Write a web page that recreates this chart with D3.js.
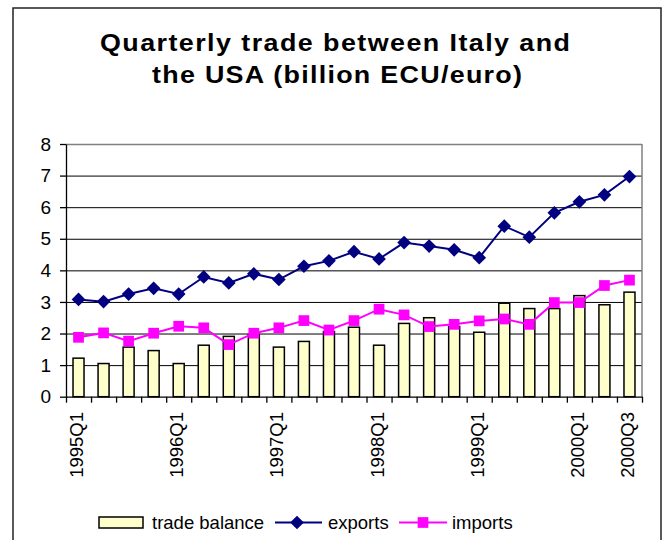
<!DOCTYPE html>
<html>
<head>
<meta charset="utf-8">
<title>Quarterly trade between Italy and the USA</title>
<script src="https://d3js.org/d3.v7.min.js"></script>
<style>
  body { margin: 0; background: #fff; }
  text { font-family: "Liberation Sans", Arial, sans-serif; fill: #000; }
</style>
</head>
<body>
<div id="chart"></div>
<script>
// quarters 1995Q1 .. 2000Q3
const quarters = ["1995Q1","1995Q2","1995Q3","1995Q4","1996Q1","1996Q2","1996Q3","1996Q4",
  "1997Q1","1997Q2","1997Q3","1997Q4","1998Q1","1998Q2","1998Q3","1998Q4",
  "1999Q1","1999Q2","1999Q3","1999Q4","2000Q1","2000Q2","2000Q3"];
const shownLabels = ["1995Q1","1996Q1","1997Q1","1998Q1","1999Q1","2000Q1","2000Q3"];
const tradeBalance = [1.22,1.05,1.57,1.46,1.05,1.63,1.91,1.97,1.57,1.75,2.06,2.20,
  1.63,2.32,2.50,2.22,2.04,2.96,2.79,2.79,3.20,2.91,3.31];
const exportsVals = [3.08,3.01,3.25,3.43,3.25,3.79,3.60,3.89,3.71,4.13,4.30,4.59,
  4.36,4.88,4.77,4.65,4.40,5.40,5.05,5.82,6.17,6.39,6.97];
const importsVals = [1.88,2.02,1.76,2.01,2.23,2.18,1.65,2.01,2.18,2.41,2.11,2.41,
  2.77,2.59,2.22,2.29,2.40,2.46,2.29,2.98,2.98,3.52,3.69];
const yTicks = [0,1,2,3,4,5,6,7,8];

const W = 672, H = 540;
const pLeft = 66, pRight = 642, pTop = 144, pBottom = 396.7;

const svg = d3.select("#chart").append("svg")
  .attr("width", W).attr("height", H);

// outer frame (bottom edge runs off the picture)
svg.append("rect")
  .attr("x", 13).attr("y", 8)
  .attr("width", 648).attr("height", 560)
  .attr("fill", "none").attr("stroke", "#222").attr("stroke-width", 1.5);

// title, slightly widened glyphs like the original rendering
const sx = 1.12;
const title = svg.append("g").attr("font-weight", "bold").attr("font-size", 24);
title.append("text")
  .attr("transform", "translate(100,51) scale(" + sx + ",1)")
  .attr("textLength", 470 / sx).attr("lengthAdjust", "spacing")
  .text("Quarterly trade between Italy and");
title.append("text")
  .attr("transform", "translate(152,82.5) scale(" + sx + ",1)")
  .attr("textLength", 370 / sx).attr("lengthAdjust", "spacing")
  .text("the USA (billion ECU/euro)");

const x = d3.scaleBand().domain(quarters).range([pLeft, pRight]);
const xEdges = d3.scaleLinear().domain([0, quarters.length]).range([pLeft, pRight]);
const y = d3.scaleLinear().domain([0, 8]).range([pBottom, pTop]);

// gridlines
svg.append("g")
  .attr("transform", "translate(" + pLeft + ",0)")
  .call(d3.axisLeft(y).tickValues(yTicks.slice(1)).tickSize(-(pRight - pLeft)).tickFormat(""))
  .call(g => g.select(".domain").remove())
  .call(g => g.selectAll(".tick line")
    .attr("stroke", d => d === 8 ? "#808080" : "#000")
    .attr("stroke-width", d => d === 8 ? 1.5 : 1));

// right border of plot
svg.append("line")
  .attr("x1", pRight).attr("x2", pRight).attr("y1", pTop).attr("y2", pBottom)
  .attr("stroke", "#808080").attr("stroke-width", 1.5);

// bars
const barW = 11;
svg.selectAll("rect.bar")
  .data(tradeBalance)
  .enter().append("rect")
  .attr("class", "bar")
  .attr("x", (d, i) => x(quarters[i]) + x.bandwidth() / 2 - barW / 2)
  .attr("y", d => y(d))
  .attr("width", barW)
  .attr("height", d => pBottom - y(d))
  .attr("fill", "#FFFFCC")
  .attr("stroke", "#000")
  .attr("stroke-width", 1.5);

// y axis
svg.append("g")
  .attr("transform", "translate(" + pLeft + ",0)")
  .call(d3.axisLeft(y).tickValues(yTicks).tickSize(6).tickPadding(9).tickSizeOuter(0))
  .call(g => g.selectAll("path, line").attr("stroke", "#000").attr("stroke-width", 1.3))
  .call(g => g.selectAll("text").attr("font-size", 19).attr("font-family", "Liberation Sans, Arial, sans-serif"));

// x axis with ticks between categories
svg.append("g")
  .attr("transform", "translate(0," + pBottom + ")")
  .call(d3.axisBottom(xEdges).ticks(quarters.length).tickSize(6).tickSizeOuter(0).tickFormat(""))
  .call(g => g.selectAll("path, line").attr("stroke", "#000").attr("stroke-width", 1.3));

svg.append("g").selectAll("text")
  .data(shownLabels)
  .enter().append("text")
  .attr("transform", d => "translate(" + (x(d) + x.bandwidth() / 2 + 4.5) + ",412) rotate(-90)")
  .attr("text-anchor", "end")
  .attr("font-size", 18.5)
  .text(d => d);

// lines
const line = d3.line()
  .x((d, i) => x(quarters[i]) + x.bandwidth() / 2)
  .y(d => y(d));

svg.append("path").datum(importsVals)
  .attr("d", line).attr("fill", "none")
  .attr("stroke", "#FF00FF").attr("stroke-width", 2);
svg.append("path").datum(exportsVals)
  .attr("d", line).attr("fill", "none")
  .attr("stroke", "#000080").attr("stroke-width", 2);

const diamond = d3.symbol().type(d3.symbolDiamond2).size(120);
const square = d3.symbol().type(d3.symbolSquare).size(115);

svg.append("g").selectAll("path")
  .data(importsVals)
  .enter().append("path")
  .attr("d", square)
  .attr("transform", (d, i) => "translate(" + (x(quarters[i]) + x.bandwidth() / 2) + "," + y(d) + ")")
  .attr("fill", "#FF00FF");

svg.append("g").selectAll("path")
  .data(exportsVals)
  .enter().append("path")
  .attr("d", diamond)
  .attr("transform", (d, i) => "translate(" + (x(quarters[i]) + x.bandwidth() / 2) + "," + y(d) + ")")
  .attr("fill", "#000080");

// legend
const lg = svg.append("g").attr("font-size", 18.5);
lg.append("rect").attr("x", 99).attr("y", 517).attr("width", 44).attr("height", 11)
  .attr("fill", "#FFFFCC").attr("stroke", "#000").attr("stroke-width", 1.5);
lg.append("text").attr("x", 152).attr("y", 529).text("trade balance");

lg.append("line").attr("x1", 275).attr("x2", 322).attr("y1", 522.5).attr("y2", 522.5)
  .attr("stroke", "#000080").attr("stroke-width", 2);
lg.append("path").attr("d", diamond).attr("transform", "translate(297,522.5)").attr("fill", "#000080");
lg.append("text").attr("x", 328).attr("y", 529).text("exports");

lg.append("line").attr("x1", 399).attr("x2", 447).attr("y1", 522.5).attr("y2", 522.5)
  .attr("stroke", "#FF00FF").attr("stroke-width", 2);
lg.append("path").attr("d", square).attr("transform", "translate(423,522.5)").attr("fill", "#FF00FF");
lg.append("text").attr("x", 452).attr("y", 529).text("imports");
</script>
</body>
</html>
